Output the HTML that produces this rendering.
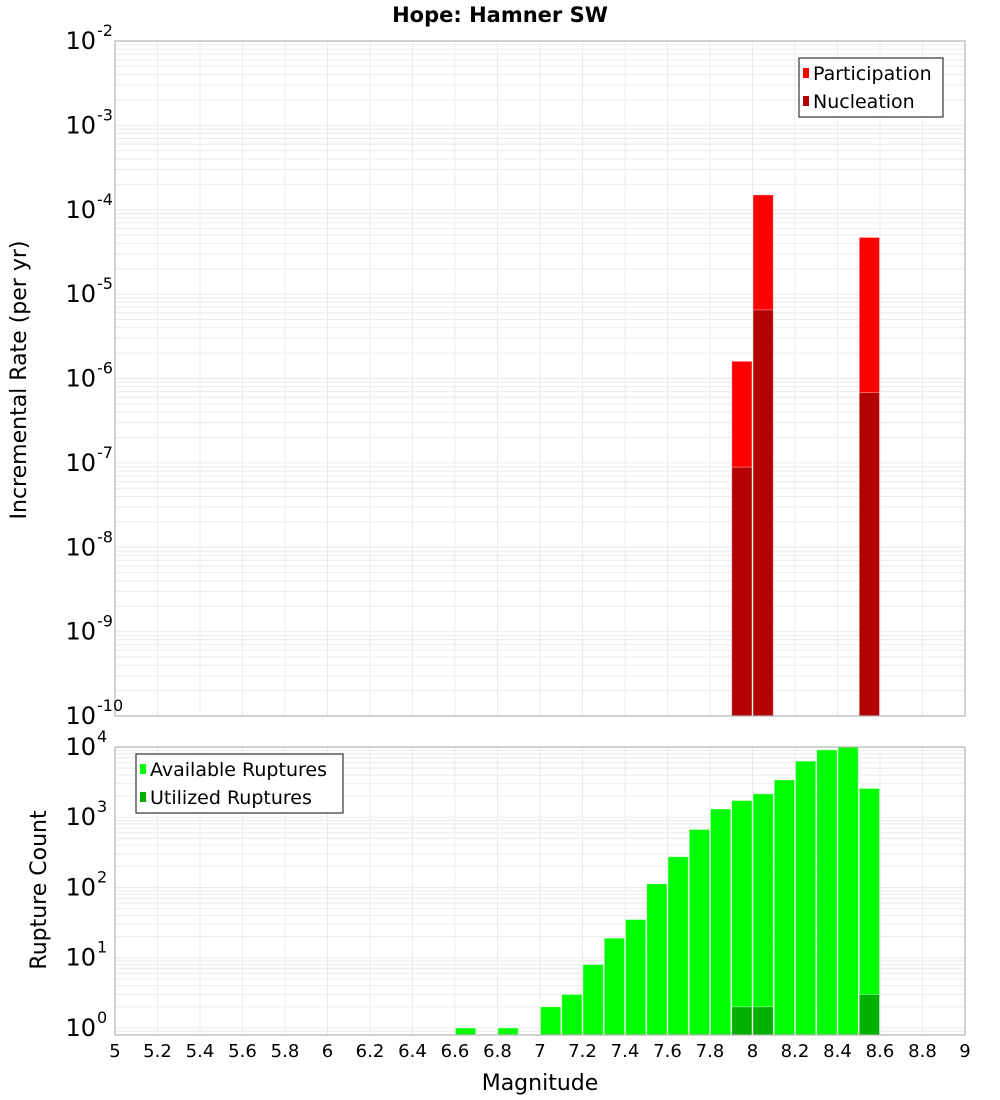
<!DOCTYPE html>
<html><head><meta charset="utf-8"><style>
html,body{margin:0;padding:0;background:#fff;}
svg{display:block;font-family:"DejaVu Sans","Liberation Sans",sans-serif;}
</style></head><body>
<svg id="chart" width="1000" height="1100" viewBox="0 0 1000 1100" xmlns="http://www.w3.org/2000/svg">
<text x="500" y="22" text-anchor="middle" font-size="21" font-weight="bold">Hope: Hamner SW</text>
<g id="top"></g><g id="bot"></g>
<text transform="translate(26,380) rotate(-90)" text-anchor="middle" font-size="22">Incremental Rate (per yr)</text>
<text transform="translate(46,890) rotate(-90)" text-anchor="middle" font-size="22">Rupture Count</text>
<text x="540" y="1090" text-anchor="middle" font-size="22">Magnitude</text>
</svg>
<script>
const rateMags=[7.95,8.05,8.55];
const participation=[1.6e-6,1.5e-4,4.7e-5];
const nucleation=[8.9e-8,6.5e-6,6.8e-7];
const countMags=[6.65,6.85,7.05,7.15,7.25,7.35,7.45,7.55,7.65,7.75,7.85,7.95,8.05,8.15,8.25,8.35,8.45,8.55];
const available=[1,1,2,3,8,19,35,113,274,670,1310,1730,2150,3400,6300,9100,10000,2570];
const utilizedMags=[7.95,8.05,8.55];
const utilized=[2,2,3];
const xTicks=["5","5.2","5.4","5.6","5.8","6","6.2","6.4","6.6","6.8","7","7.2","7.4","7.6","7.8","8","8.2","8.4","8.6","8.8","9"];
const topExps=[-2,-3,-4,-5,-6,-7,-8,-9,-10];
const botExps=[4,3,2,1,0];

const NS="http://www.w3.org/2000/svg";
const X0=115,X1=965;
const xs=m=>X0+(m-5)/4*(X1-X0);
function mk(p,tag,a){const e=document.createElementNS(NS,tag);for(const k in a)e.setAttribute(k,a[k]);p.appendChild(e);return e;}
function panel(g,top,bot,lmax,lmin,name){
  const ys=v=>top+(lmax-Math.log10(v))/(lmax-lmin)*(bot-top);
  const grid=mk(g,'g',{});
  
  
  for(let d=Math.floor(lmin);d<lmax;d++)for(let k=1;k<10;k++){const y=ys(k*Math.pow(10,d));if(y<top-0.5||y>bot+0.5)continue;mk(grid,'line',{x1:X0,x2:X1,y1:y,y2:y,stroke:'#ebebeb','stroke-width':1});}
  for(let i=1;i<20;i++){const x=xs(5+i*0.2);mk(grid,'line',{x1:x,x2:x,y1:top,y2:bot,stroke:'#ebebeb','stroke-width':1});}
  return ys;
}
function bar(g,m,v,ys,bot,fill,name){
  const w=212.5*0.1;const r=mk(g,'rect',{x:xs(m)-w/2+0.5,y:ys(v),width:w-1,height:bot-ys(v),fill:fill,stroke:'#fff','stroke-opacity':0.5,'stroke-width':0.8});
  
  
}
function ylab(g,e,y,name){
  const t=mk(g,'text',{x:96,y:y+8,'text-anchor':'end','font-size':24});t.textContent='10';
  
  
  const s=mk(g,'text',{x:97,y:y-5,'font-size':16});s.textContent=String(e);
}
function legend(g,x,y,w,items,name){
  const lg=mk(g,'g',{});
  
  
  mk(lg,'rect',{x:x,y:y,width:w,height:59,fill:'#fff',stroke:'#333','stroke-width':1.2});
  items.forEach((it,i)=>{const cy=y+15+i*28;
    mk(lg,'rect',{x:x+4,y:cy-5,width:6,height:10,fill:it[1]});
    const t=mk(lg,'text',{x:x+14,y:cy+7,'font-size':19});t.textContent=it[0];
    
    });
}
// top panel
const gt=document.getElementById('top');
const T0=41,T1=716;
const yt=panel(gt,T0,T1,-2,-10,'top');
rateMags.forEach((m,i)=>bar(gt,m,participation[i],yt,T1,'#ff0000','participation-bar'));
rateMags.forEach((m,i)=>bar(gt,m,nucleation[i],yt,T1,'#b30000','nucleation-bar'));
mk(gt,'rect',{x:X0,y:T0,width:X1-X0,height:T1-T0,fill:'none',stroke:'#b4b4b4','stroke-width':1.2});
topExps.forEach(e=>ylab(gt,e,yt(Math.pow(10,e)),'top-y-tick'));
legend(gt,799,58,144,[['Participation','#ff0000'],['Nucleation','#b30000']],'top-legend');
// bottom panel
const gb=document.getElementById('bot');
const B0=747,B1=1035;
const yb=panel(gb,B0,B1,4,-0.1,'bottom');
countMags.forEach((m,i)=>bar(gb,m,available[i],yb,B1,'#00ff00','available-bar'));
utilizedMags.forEach((m,i)=>bar(gb,m,utilized[i],yb,B1,'#00b000','utilized-bar'));
mk(gb,'rect',{x:X0,y:B0,width:X1-X0,height:B1-B0,fill:'none',stroke:'#b4b4b4','stroke-width':1.2});
botExps.forEach(e=>ylab(gb,e,yb(Math.pow(10,e)),'bottom-y-tick'));
legend(gb,136,754,207,[['Available Ruptures','#00ff00'],['Utilized Ruptures','#00b000']],'bottom-legend');
xTicks.forEach(s=>{const t=mk(gb,'text',{x:xs(parseFloat(s)),y:1057,'text-anchor':'middle','font-size':18});t.textContent=s;
  
  });
</script>
</body></html>
